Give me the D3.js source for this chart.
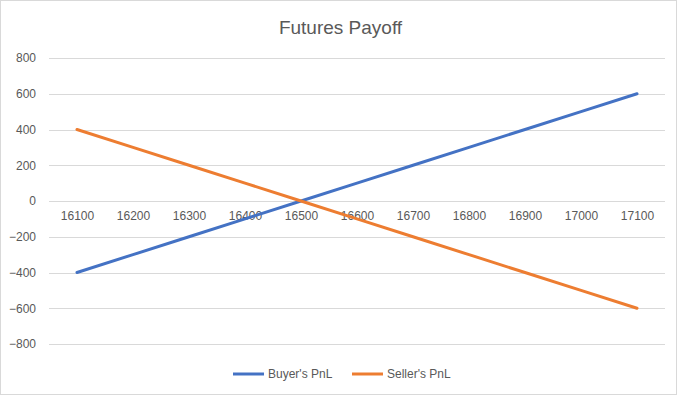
<!DOCTYPE html>
<html>
<head>
<meta charset="utf-8">
<script src="https://cdn.jsdelivr.net/npm/d3@7"></script>
<style>
  body { margin: 0; background: #fff; }
  text { font-family: "Liberation Sans", Arial, sans-serif; fill: #595959; }
</style>
</head>
<body>
<div id="chart"></div>
<script>
// dati
const prices = [16100, 16200, 16300, 16400, 16500, 16600, 16700, 16800, 16900, 17000, 17100];
const buyerPnl = [-400, -300, -200, -100, 0, 100, 200, 300, 400, 500, 600];
const sellerPnl = [400, 300, 200, 100, 0, -100, -200, -300, -400, -500, -600];
const yTicks = [-800, -600, -400, -200, 0, 200, 400, 600, 800];

const W = 677, H = 395;
const plot = { left: 49, right: 665, top: 58, bottom: 344 };

const svg = d3.select('#chart').append('svg')
    .attr('width', W)
    .attr('height', H);

// sfondo e bordo
svg.append('rect')
    .attr('x', 0.5).attr('y', 0.5)
    .attr('width', W - 1).attr('height', H - 1)
    .attr('fill', '#fff')
    .attr('stroke', '#d9d9d9');

// scale
const x = d3.scalePoint()
    .domain(prices)
    .range([plot.left, plot.right])
    .padding(0.5);

const y = d3.scaleLinear()
    .domain([-800, 800])
    .range([plot.bottom, plot.top]);

// griglia orizzontale
svg.append('g')
    .selectAll('line')
    .data(yTicks)
    .join('line')
    .attr('x1', plot.left)
    .attr('x2', plot.right)
    .attr('y1', d => Math.round(y(d)) + 0.5)
    .attr('y2', d => Math.round(y(d)) + 0.5)
    .attr('stroke', '#d9d9d9')
    .attr('stroke-width', 1);

// asse y
const yAxis = svg.append('g')
    .attr('transform', `translate(${plot.left - 13},0)`)
    .call(d3.axisLeft(y).tickValues(yTicks).tickSize(0).tickPadding(0));
yAxis.select('.domain').remove();
yAxis.selectAll('text')
    .style('font-size', '12px')
    .attr('fill', '#595959');

// asse x (sulla linea dello zero)
const xAxis = svg.append('g')
    .attr('transform', `translate(0,${y(0)})`)
    .call(d3.axisBottom(x).tickSize(0).tickPadding(10));
xAxis.select('.domain').remove();
xAxis.selectAll('text')
    .style('font-size', '12px')
    .attr('fill', '#595959');

// linee
const series = [
    { name: "Buyer's PnL", values: buyerPnl, color: '#4472c4' },
    { name: "Seller's PnL", values: sellerPnl, color: '#ed7d31' }
];

const line = d3.line()
    .x((d, i) => x(prices[i]))
    .y(d => y(d));

svg.append('g')
    .selectAll('path')
    .data(series)
    .join('path')
    .attr('d', d => line(d.values))
    .attr('fill', 'none')
    .attr('stroke', d => d.color)
    .attr('stroke-width', 3)
    .attr('stroke-linecap', 'round');

// titolo
svg.append('text')
    .attr('x', W / 2 + 2)
    .attr('y', 34)
    .attr('text-anchor', 'middle')
    .style('font-size', '19px')
    .text('Futures Payoff');

// legenda
const legendX = [233, 352];
const legend = svg.append('g')
    .selectAll('g')
    .data(series)
    .join('g')
    .attr('transform', (d, i) => `translate(${legendX[i]},374)`);

legend.append('line')
    .attr('x1', 0).attr('x2', 31)
    .attr('stroke', d => d.color)
    .attr('stroke-width', 3);

legend.append('text')
    .attr('x', 35)
    .attr('dy', '0.35em')
    .style('font-size', '12px')
    .text(d => d.name);
</script>
</body>
</html>
